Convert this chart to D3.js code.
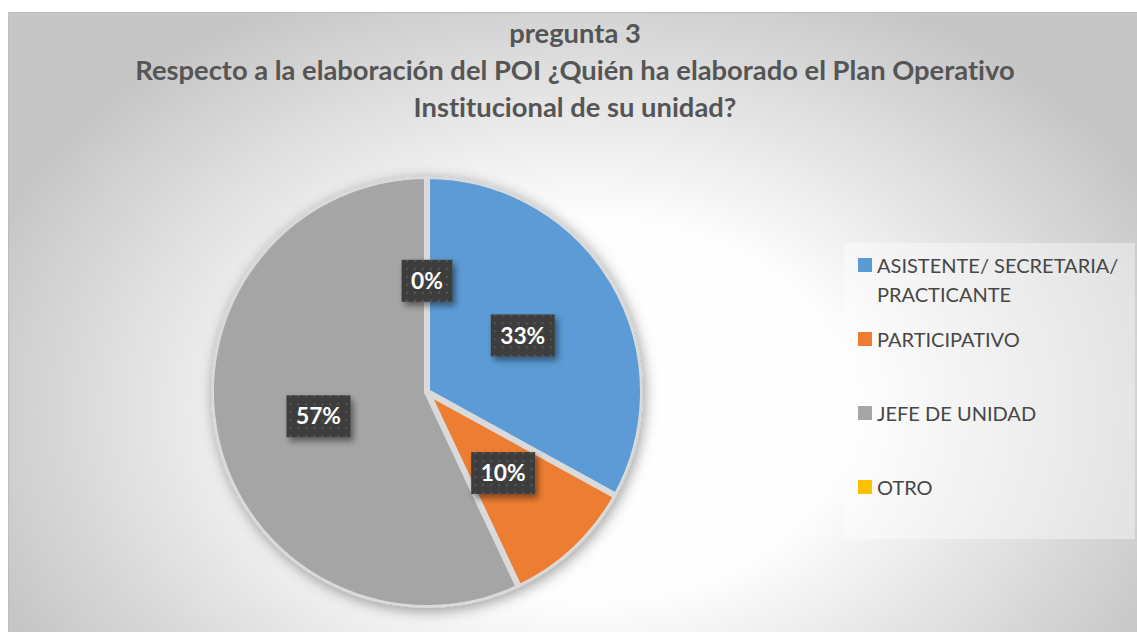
<!DOCTYPE html>
<html lang="es">
<head>
<meta charset="utf-8">
<title>pregunta 3</title>
<script src="https://d3js.org/d3.v7.min.js"></script>
<style>
  body { margin: 0; background: #fff; }
  svg { display: block; }
  text { font-variant-ligatures: none; font-feature-settings: "liga" 0, "dlig" 0; }
  .title { font-family: Lato, "Open Sans", sans-serif; font-weight: bold; fill: #555; text-anchor: middle; }
  .legend text { font-family: Lato, "Open Sans", sans-serif; fill: #474747; }
  .lbl { font-family: Lato, "Open Sans", sans-serif; font-weight: bold; fill: #fff; text-anchor: middle; }
</style>
</head>
<body>
<script>
  // data
  var titleLines = ["pregunta 3",
    "Respecto a la elaboración del POI ¿Quién ha elaborado el Plan Operativo",
    "Institucional de su unidad?"];
  var categories = ["ASISTENTE/ SECRETARIA/ PRACTICANTE", "PARTICIPATIVO", "JEFE DE UNIDAD", "OTRO"];
  var values = [33, 10, 57, 0];
  var colors = ["#5B9BD5", "#ED7D31", "#A5A5A5", "#FFC000"];

  var width = 1137, height = 632;
  var cx = 427, cy = 392, radius = 216;

  var svg = d3.select("body").append("svg")
    .attr("width", width)
    .attr("height", height);

  var defs = svg.append("defs");

  // background gradient (white around the middle, grey to the edges)
  var grad = defs.append("radialGradient")
    .attr("id", "bg")
    .attr("gradientUnits", "userSpaceOnUse")
    .attr("cx", 585).attr("cy", 410).attr("r", 640)
    .attr("gradientTransform", "translate(585,410) scale(1,0.72) translate(-585,-410)");
  grad.append("stop").attr("offset", 0).attr("stop-color", "#ffffff");
  grad.append("stop").attr("offset", 0.42).attr("stop-color", "#fdfdfd");
  grad.append("stop").attr("offset", 1).attr("stop-color", "#c6c6c6");

  // dotted fill of the data labels
  var pat = defs.append("pattern")
    .attr("id", "dots")
    .attr("patternUnits", "userSpaceOnUse")
    .attr("width", 8).attr("height", 8);
  pat.append("rect").attr("width", 8).attr("height", 8).attr("fill", "#3e3e3e");
  pat.append("circle").attr("cx", 4).attr("cy", 4).attr("r", 1.1).attr("fill", "#5a5a5a");

  var f1 = defs.append("filter").attr("id", "pieShadow")
    .attr("x", "-20%").attr("y", "-20%").attr("width", "140%").attr("height", "140%");
  f1.append("feDropShadow").attr("dx", 2).attr("dy", 3).attr("stdDeviation", 7)
    .attr("flood-color", "#000").attr("flood-opacity", 0.38);

  var f2 = defs.append("filter").attr("id", "boxShadow")
    .attr("x", "-30%").attr("y", "-30%").attr("width", "160%").attr("height", "160%");
  f2.append("feDropShadow").attr("dx", 3).attr("dy", 4).attr("stdDeviation", 3)
    .attr("flood-color", "#000").attr("flood-opacity", 0.45);

  defs.append("clipPath").attr("id", "pieClip")
    .append("circle").attr("r", radius);

  // chart area
  svg.append("rect")
    .attr("x", 8.5).attr("y", 12.5)
    .attr("width", width).attr("height", height)
    .attr("fill", "url(#bg)")
    .attr("stroke", "#bdbdbd");

  // helper to fit a font size to a target width
  function fitSize(text, cls, base, target) {
    var t = svg.append("text").attr("class", cls).style("font-size", base + "px").text(text);
    var w = t.node().getComputedTextLength();
    t.remove();
    return base * target / w;
  }

  // title
  var titleSize = fitSize(titleLines[1], "title", 22, 880);
  svg.selectAll(".title").data(titleLines).enter().append("text")
    .attr("class", "title")
    .attr("x", 575)
    .attr("y", function(d, i) { return 43 + i * 37; })
    .style("font-size", titleSize + "px")
    .text(function(d) { return d; });

  // pie
  var pie = d3.pie().sort(null).value(function(d) { return d.value; });
  var arcs = pie(categories.map(function(c, i) { return { name: c, value: values[i], color: colors[i] }; }));
  var arc = d3.arc().innerRadius(0).outerRadius(radius);
  var labelArc = d3.arc().innerRadius(radius * 0.515).outerRadius(radius * 0.515);

  var gPie = svg.append("g").attr("transform", "translate(" + cx + "," + cy + ")");
  var slices = gPie.append("g").attr("filter", "url(#pieShadow)");
  var inner = slices.append("g").attr("clip-path", "url(#pieClip)");
  inner.selectAll("path").data(arcs).enter().append("path")
    .attr("d", arc)
    .attr("fill", function(d) { return d.data.color; })
    .attr("stroke", "#dadada")
    .attr("stroke-width", 6)
    .attr("stroke-linejoin", "round");

  // data labels
  var lblSize = fitSize("33%", "lbl", 24, 45);
  var lbl = gPie.selectAll(".dl").data(arcs).enter().append("g")
    .attr("class", "dl")
    .attr("transform", function(d) { return "translate(" + labelArc.centroid(d) + ")"; });
  lbl.append("text")
    .attr("class", "lbl")
    .attr("y", lblSize * 0.36)
    .style("font-size", lblSize + "px")
    .text(function(d) { return d.data.value + "%"; });
  lbl.each(function() {
    var g = d3.select(this);
    var w = g.select("text").node().getComputedTextLength() + 19;
    g.insert("rect", "text")
      .attr("x", -w / 2).attr("y", -21)
      .attr("width", w).attr("height", 42)
      .attr("fill", "url(#dots)")
      .attr("filter", "url(#boxShadow)");
  });

  // legend
  var legend = svg.append("g").attr("class", "legend");
  legend.append("rect")
    .attr("x", 844).attr("y", 243)
    .attr("width", 291).attr("height", 296)
    .attr("fill", "#fff").attr("fill-opacity", 0.4);

  var legendSize = fitSize("ASISTENTE/ SECRETARIA/", "", 18, 245);
  var y = d3.scaleBand().domain(categories).range([243, 539]);

  categories.forEach(function(c, i) {
    var base = y(c) + 30;
    legend.append("rect")
      .attr("x", 858).attr("y", base - 15)
      .attr("width", 14).attr("height", 14)
      .attr("fill", colors[i]);
    // word wrap into the legend width
    var words = c.split(" "), lines = [], cur = "";
    words.forEach(function(w) {
      var test = cur ? cur + " " + w : w;
      var t = legend.append("text").style("font-size", legendSize + "px").text(test);
      var tw = t.node().getComputedTextLength();
      t.remove();
      if (tw > 250 && cur) { lines.push(cur); cur = w; } else { cur = test; }
    });
    lines.push(cur);
    lines.forEach(function(l, j) {
      legend.append("text")
        .attr("x", 877)
        .attr("y", base + j * 29)
        .style("font-size", legendSize + "px")
        .text(l);
    });
  });
</script>
</body>
</html>
